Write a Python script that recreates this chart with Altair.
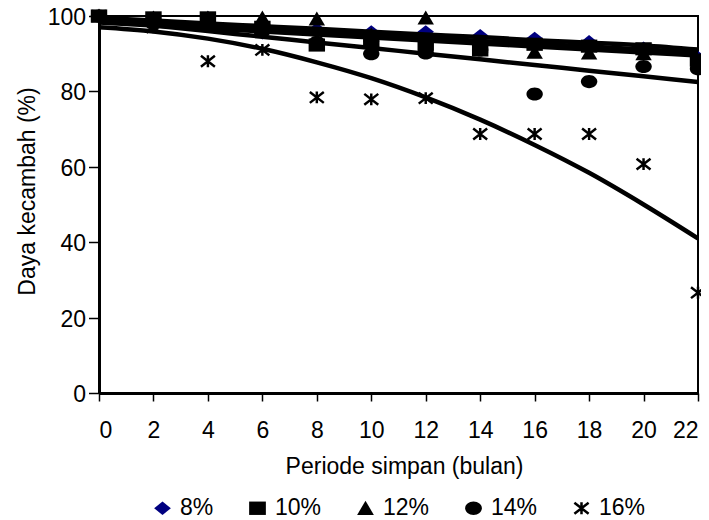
import altair as alt
import pandas as pd

# ---- data ----
months = [0, 2, 4, 6, 8, 10, 12, 14, 16, 18, 20, 22]
series = ["8%", "10%", "12%", "14%", "16%"]

obs_8 = [100, 99.5, 99.5, 95.5, 96.5, 95.8, 95.8, 94.8, 94.1, 93.2, 91.5, 89.0]
obs_10 = [100, 99.5, 99.5, 97.0, 92.3, 93.0, 92.5, 91.0, 92.5, 92.0, 91.3, 88.3]
obs_12 = [100, 99.5, 99.5, 99.5, 99.2, 95.0, 99.5, 92.0, 90.4, 90.2, 90.0, 88.0]
obs_14 = [100, 98.0, 98.0, 96.0, 93.0, 90.0, 90.2, 91.0, 79.3, 82.6, 86.6, 86.0]
obs_16 = [100, 97.0, 88.0, 91.0, 78.4, 77.9, 78.2, 68.7, 68.7, 68.7, 60.7, 26.6]

# trend lines (at each tick of the x axis)
trend_8 = [99.5, 98.8, 98.0, 97.3, 96.6, 95.8, 95.1, 94.4, 93.6, 92.9, 92.2, 91.1]
trend_10 = [98.3, 97.5, 96.7, 95.9, 95.1, 94.3, 93.5, 92.7, 91.9, 91.1, 90.3, 89.5]
trend_12 = [98.9, 98.1, 97.3, 96.6, 95.8, 95.0, 94.2, 93.4, 92.7, 91.9, 91.1, 90.3]
trend_14 = [99.0, 97.5, 96.0, 94.5, 93.0, 91.5, 90.0, 88.5, 87.0, 85.5, 84.0, 82.5]
trend_16 = [97.0, 95.9, 94.0, 91.3, 87.7, 83.5, 78.4, 72.5, 65.8, 58.4, 50.0, 41.0]

y_ticks = [0, 20, 40, 60, 80, 100]

obs = dict(zip(series, [obs_8, obs_10, obs_12, obs_14, obs_16]))
trend = dict(zip(series, [trend_8, trend_10, trend_12, trend_14, trend_16]))

pts = pd.DataFrame(
    [{"bulan": m, "daya": v, "kadar": s, "idx": i}
     for i, s in enumerate(series) for m, v in zip(months, obs[s])]
)
lines = pd.DataFrame(
    [{"bulan": m, "daya": v, "kadar": s} for s in series for m, v in zip(months, trend[s])]
)

# marker shapes (slightly wide, as in the picture)
diamond = "M-1,0L0,-0.8L1,0L0,0.8Z"
square = "M-1,-0.8L1,-0.8L1,0.8L-1,0.8Z"
triangle = "M0,-0.9L1,0.8L-1,0.8Z"
ellipse = "M-1,0A1,0.8,0,1,0,1,0A1,0.8,0,1,0,-1,0Z"
asterisk = ("M-0.15,-0.72L0.15,-0.72L0.15,0.72L-0.15,0.72Z"
            "M-0.758,-0.779L0.942,0.541L0.758,0.779L-0.942,-0.541Z"
            "M-0.942,0.541L0.758,-0.779L0.942,-0.541L-0.758,0.779Z")

FONT = "Liberation Sans"

x_enc = alt.X(
    "bulan:Q",
    scale=alt.Scale(domain=[0, 22], nice=False, zero=False),
    axis=alt.Axis(
        values=months, format="d", title="Periode simpan (bulan)",
        tickSize=8, labelPadding=36, labelBaseline="alphabetic",
        titleX=305, titleY=80, titleBaseline="alphabetic",
        domainWidth=3,
    ),
)
y_enc = alt.Y(
    "daya:Q",
    scale=alt.Scale(domain=[0, 100], nice=False),
    axis=alt.Axis(
        values=y_ticks, title="Daya kecambah (%)",
        tickSize=10.5, labelPadding=3, labelOffset=1.5,
        titleX=-65, titleY=175, titleBaseline="alphabetic", titleAngle=-90,
        domainWidth=3,
    ),
)

leg = dict(
    title=None, orient="none", direction="horizontal",
    legendX=52, legendY=480.5, symbolSize=280, symbolStrokeWidth=0,
    labelFontSize=23, labelFont=FONT, labelOffset=6, columnPadding=32,
    labelColor="black", padding=0, symbolOpacity=1,
)

points = alt.Chart(pts).mark_point(filled=True, size=270, opacity=1, strokeWidth=0).encode(
    x=x_enc,
    y=y_enc,
    color=alt.Color(
        "kadar:N",
        scale=alt.Scale(domain=series, range=["#000080", "#000000", "#000000", "#000000", "#000000"]),
        legend=alt.Legend(**leg),
    ),
    shape=alt.Shape(
        "kadar:N",
        scale=alt.Scale(domain=series, range=[diamond, square, triangle, ellipse, asterisk]),
        legend=alt.Legend(**leg),
    ),
    order=alt.Order("idx:Q"),
)

trend_lines = alt.Chart(lines).mark_line(
    color="black", strokeWidth=4.5, interpolate="monotone"
).encode(x="bulan:Q", y="daya:Q", detail="kadar:N")

chart = (
    alt.layer(points, trend_lines)
    .properties(
        width=599, height=377,
        autosize=alt.AutoSizeParams(type="none"),
        padding={"left": 91, "top": 8, "right": 3, "bottom": 127},
        background="white",
    )
    .configure_view(stroke="black", strokeWidth=2)
    .configure_axis(
        grid=False, labelFont=FONT, titleFont=FONT, labelFontSize=23, titleFontSize=23,
        titleFontWeight="normal", labelColor="black", titleColor="black",
        domainColor="black", tickColor="black", tickWidth=1.5,
    )
)

chart.save("out.html", embed_options={"renderer": "svg", "actions": False})
